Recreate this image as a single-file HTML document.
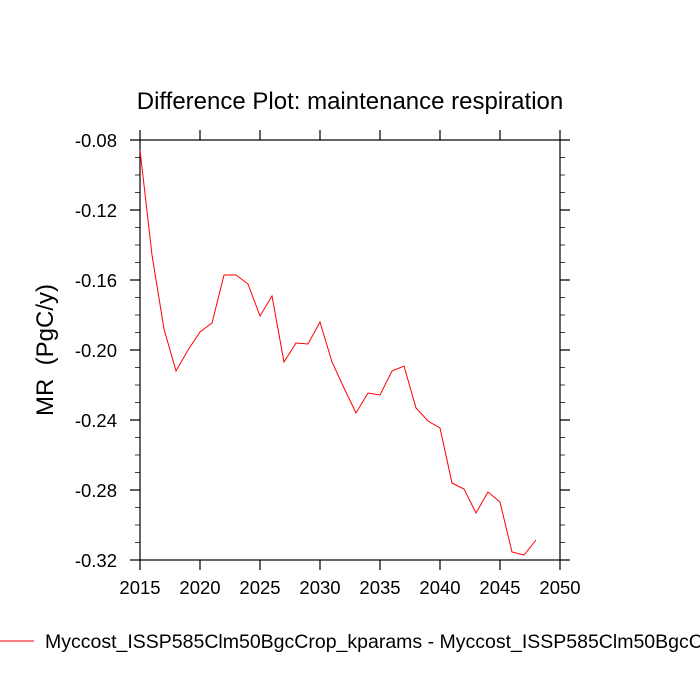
<!DOCTYPE html>
<html><head><meta charset="utf-8"><style>body{margin:0;background:#fff;overflow:hidden}svg{display:block}</style></head><body>
<svg width="700" height="700" xmlns="http://www.w3.org/2000/svg" font-family="Liberation Sans, sans-serif">
<text x="350" y="109" font-size="24" text-anchor="middle">Difference Plot: maintenance respiration</text>
<g stroke="#000" stroke-width="1.2" fill="none">
<rect x="140" y="140" width="420" height="420"/>
<path d="M140 140h-10M140 210h-10M140 280h-10M140 350h-10M140 420h-10M140 490h-10M140 560h-10
M560 140h10M560 210h10M560 280h10M560 350h10M560 420h10M560 490h10M560 560h10
M140 560v10M200 560v10M260 560v10M320 560v10M380 560v10M440 560v10M500 560v10M560 560v10
M140 140v-10M200 140v-10M260 140v-10M320 140v-10M380 140v-10M440 140v-10M500 140v-10M560 140v-10"/>
<path stroke-width="0.8" d="M140 157.5h-5M140 175h-5M140 192.5h-5M140 227.5h-5M140 245h-5M140 262.5h-5M140 297.5h-5M140 315h-5M140 332.5h-5M140 367.5h-5M140 385h-5M140 402.5h-5M140 437.5h-5M140 455h-5M140 472.5h-5M140 507.5h-5M140 525h-5M140 542.5h-5
M560 157.5h5M560 175h5M560 192.5h5M560 227.5h5M560 245h5M560 262.5h5M560 297.5h5M560 315h5M560 332.5h5M560 367.5h5M560 385h5M560 402.5h5M560 437.5h5M560 455h5M560 472.5h5M560 507.5h5M560 525h5M560 542.5h5"/>
</g>
<g font-size="18.5" text-anchor="end">
<text x="117" y="147">-0.08</text><text x="117" y="217">-0.12</text><text x="117" y="287">-0.16</text><text x="117" y="357">-0.20</text><text x="117" y="427">-0.24</text><text x="117" y="497">-0.28</text><text x="117" y="567">-0.32</text>
</g>
<g font-size="18.5" text-anchor="middle">
<text x="140" y="594">2015</text><text x="200" y="594">2020</text><text x="260" y="594">2025</text><text x="320" y="594">2030</text><text x="380" y="594">2035</text><text x="440" y="594">2040</text><text x="500" y="594">2045</text><text x="560" y="594">2050</text>
</g>
<text transform="translate(53 350) rotate(-90)" font-size="24" text-anchor="middle" xml:space="preserve">MR  (PgC/y)</text>
<polyline fill="none" stroke="#ff0000" stroke-width="1" points="140,150 152,255 164,329 176,371 188,350 200,332 212,323 224,275 236,275 248,284 260,316 272,296 284,362 296,343 308,344 320,322 332,362 344,388 356,413 368,393 380,395 392,371 404,366 416,408 428,421 440,428 452,483 464,489 476,513 488,492 500,502 512,552 524,555 536,540"/>
<line x1="0" y1="641" x2="34" y2="641" stroke="#ff0000" stroke-width="1"/>
<text x="45" y="648" font-size="19.5">Myccost_ISSP585Clm50BgcCrop_kparams - Myccost_ISSP585Clm50BgcCrop</text>
</svg>
</body></html>
